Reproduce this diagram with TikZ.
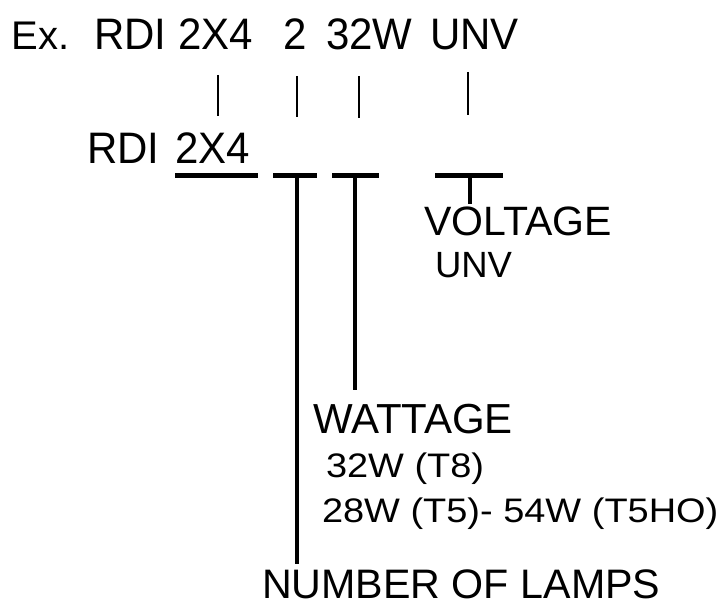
\documentclass[tikz,border=0pt]{standalone}
\usepackage{fontspec}
\setmainfont{Liberation Sans}
\newcommand\myfs[1]{\fontsize{#1}{#1}\selectfont}
\tikzset{
  lbl/.style={inner sep=0pt, outer sep=0pt, anchor=base west},
  ticker/.style={line width=1.8pt},
  barline/.style={line width=5pt},
  stemline/.style={line width=4.6pt},
}
\begin{document}
\begin{tikzpicture}[x=1pt,y=-1pt]
\useasboundingbox[fill=white] (0,0) rectangle (728,610);
% top row
\node[lbl,font=\myfs{40}] (ex) at (12,49) {Ex.};
\node[lbl,font=\myfs{42}] (trdi) at (94,49) {\scalebox{1}[1.05]{RDI}};
\node[lbl,font=\myfs{42}] (t2x4) at (178,49) {\scalebox{1}[1.05]{2X4}};
\node[lbl,font=\myfs{42}] (t2) at (283,49) {\scalebox{1}[1.05]{2}};
\node[lbl,font=\myfs{42}] (t32w) at (326,49) {\scalebox{1}[1.05]{32W}};
\node[lbl,font=\myfs{42}] (tunv) at (430,49) {\scalebox{1}[1.05]{UNV}};
% ticks
\coordinate (k1a) at (218,75); \coordinate (k1b) at (218,116);
\coordinate (k2a) at (297,76); \coordinate (k2b) at (297,117);
\coordinate (k3a) at (359,76); \coordinate (k3b) at (359,118);
\coordinate (k4a) at (468,72); \coordinate (k4b) at (468,115);
\draw[ticker] (k1a) -- (k1b);
\draw[ticker] (k2a) -- (k2b);
\draw[ticker] (k3a) -- (k3b);
\draw[ticker] (k4a) -- (k4b);
% second row
\node[lbl,font=\myfs{42}] (rdi) at (87,163) {\scalebox{1}[1.05]{RDI}};
\node[lbl,font=\myfs{42}] (r2x4) at (175,163) {\scalebox{1}[1.05]{2X4}};
% bars
\coordinate (b1l) at (175,175); \coordinate (b1r) at (258,175);
\coordinate (b2l) at (273,175); \coordinate (b2r) at (317,175);
\coordinate (b3l) at (332,175); \coordinate (b3r) at (379,175);
\coordinate (b4l) at (435,175); \coordinate (b4r) at (503,175);
\draw[barline] (b1l) -- (b1r);
\draw[barline] (b2l) -- (b2r);
\draw[barline] (b3l) -- (b3r);
\draw[barline] (b4l) -- (b4r);
% stems
\coordinate (s2) at (297,175);
\coordinate (s3) at (355,175);
\coordinate (s4) at (470,175);
\coordinate (e2) at (297,564);
\coordinate (e3) at (355,390);
\coordinate (e4) at (470,204);
\draw[stemline] (s2) -- (e2);
\draw[stemline] (s3) -- (e3);
\draw[stemline] (s4) -- (e4);
% labels
\node[lbl,font=\myfs{41}] (volt) at (424,235) {VOLTAGE};
\node[lbl,font=\myfs{36.5}] (vunv) at (435,277) {UNV};
\node[lbl,font=\myfs{42}] (watt) at (313,433) {WATTAGE};
\node[lbl,font=\myfs{33}] (w1) at (326,477) {\scalebox{1.15}[1.03]{32W (T8)}};
\node[lbl,font=\myfs{33}] (w2) at (322,522) {\scalebox{1.15}[1.03]{28W (T5)- 54W (T5HO)}};
\node[lbl,font=\myfs{41.2}] (lamps) at (262,598) {NUMBER OF LAMPS};
\end{tikzpicture}
\end{document}
